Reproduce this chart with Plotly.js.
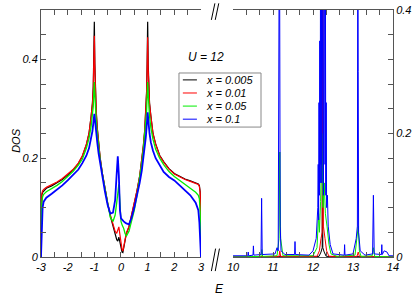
<!DOCTYPE html>
<html>
<head>
<meta charset="utf-8">
<script src="https://cdn.plot.ly/plotly-3.0.1.min.js"></script>
<style>html,body{margin:0;padding:0;background:#fff;}#chart{width:415px;height:297px;}</style>
</head>
<body>
<div id="chart"></div>
<script>
// Series names
const seriesNames = ['x = 0.005', 'x = 0.01', 'x = 0.05', 'x = 0.1'];
const seriesColors = ['#000000', '#ff0000', '#00ee00', '#0000ff'];

// Left panel: energy grid and DOS values
const eLeft = [-3.00, -2.99, -2.97, -2.94, -2.90, -2.80, -2.60, -2.40, -2.20, -2.00,
  -1.80, -1.60, -1.45, -1.30, -1.20, -1.12, -1.07, -1.04, -1.02, -1.00,
  -0.98, -0.96, -0.93, -0.89, -0.84, -0.78, -0.70, -0.60, -0.50, -0.40,
  -0.30, -0.22, -0.16, -0.12, -0.08, -0.04, 0.00, 0.04, 0.07, 0.10,
  0.15, 0.20, 0.30, 0.40, 0.50, 0.60, 0.70, 0.78, 0.84, 0.89,
  0.93, 0.96, 0.98, 1.00, 1.02, 1.04, 1.07, 1.12, 1.20, 1.30,
  1.45, 1.60, 1.80, 2.00, 2.20, 2.40, 2.60, 2.80, 2.90, 2.94,
  2.97, 2.99, 3.00];

const dosLeft005 = [0, 0.095, 0.125, 0.131, 0.134, 0.139, 0.144, 0.15, 0.157, 0.166,
  0.176, 0.189, 0.204, 0.227, 0.25, 0.285, 0.312, 0.345, 0.39, 0.476,
  0.39, 0.335, 0.297, 0.262, 0.229, 0.2, 0.17, 0.136, 0.108, 0.083,
  0.062, 0.045, 0.035, 0.032, 0.04, 0.03, 0.018, 0.01, 0.009, 0.018,
  0.033, 0.047, 0.061, 0.084, 0.107, 0.134, 0.163, 0.195, 0.226, 0.257,
  0.292, 0.335, 0.39, 0.476, 0.39, 0.345, 0.312, 0.286, 0.25, 0.229,
  0.206, 0.193, 0.179, 0.169, 0.163, 0.158, 0.154, 0.151, 0.148, 0.145,
  0.132, 0.085, 0];

const dosLeft01 = [0, 0.10, 0.128, 0.134, 0.137, 0.141, 0.146, 0.152, 0.159, 0.168,
  0.177, 0.19, 0.205, 0.228, 0.25, 0.285, 0.31, 0.34, 0.38, 0.448,
  0.38, 0.33, 0.295, 0.26, 0.228, 0.2, 0.17, 0.137, 0.11, 0.085,
  0.065, 0.052, 0.048, 0.055, 0.061, 0.045, 0.025, 0.015, 0.012, 0.02,
  0.035, 0.048, 0.062, 0.085, 0.108, 0.135, 0.164, 0.195, 0.225, 0.255,
  0.29, 0.33, 0.38, 0.445, 0.38, 0.34, 0.31, 0.285, 0.25, 0.228,
  0.205, 0.192, 0.178, 0.168, 0.162, 0.157, 0.153, 0.15, 0.147, 0.143,
  0.13, 0.08, 0];

const dosLeft05 = [0, 0.06, 0.11, 0.122, 0.127, 0.132, 0.138, 0.145, 0.153, 0.163,
  0.173, 0.186, 0.198, 0.22, 0.24, 0.265, 0.285, 0.305, 0.33, 0.354,
  0.33, 0.3, 0.275, 0.25, 0.222, 0.196, 0.168, 0.138, 0.108, 0.08,
  0.072, 0.085, 0.11, 0.13, 0.147, 0.11, 0.072, 0.065, 0.062, 0.058,
  0.048, 0.042, 0.052, 0.072, 0.095, 0.125, 0.158, 0.19, 0.218, 0.245,
  0.27, 0.295, 0.325, 0.354, 0.33, 0.305, 0.285, 0.262, 0.238, 0.218,
  0.2, 0.187, 0.173, 0.163, 0.155, 0.148, 0.14, 0.131, 0.125, 0.118,
  0.09, 0.04, 0];

const dosLeft1 = [0, 0.02, 0.06, 0.1, 0.112, 0.12, 0.128, 0.136, 0.145, 0.155,
  0.165, 0.177, 0.19, 0.205, 0.22, 0.24, 0.255, 0.27, 0.28, 0.29,
  0.28, 0.265, 0.25, 0.232, 0.21, 0.188, 0.162, 0.132, 0.105, 0.088,
  0.09, 0.115, 0.17, 0.204, 0.165, 0.095, 0.078, 0.075, 0.073, 0.072,
  0.07, 0.068, 0.066, 0.08, 0.1, 0.123, 0.15, 0.175, 0.198, 0.222,
  0.242, 0.262, 0.278, 0.293, 0.28, 0.266, 0.25, 0.232, 0.215, 0.2,
  0.185, 0.172, 0.162, 0.155, 0.145, 0.135, 0.125, 0.11, 0.095, 0.07,
  0.035, 0.01, 0];

// Right panel (upper band) energies and DOS values per series
const eRight005 = [10.0, 12.15, 12.2, 12.23, 12.235, 12.245, 12.28, 12.33, 14.0];
const dosRight005 = [0, 0.001, 0.008, 0.015, 0.6, 0.015, 0.008, 0.001, 0];

const eRight01 = [10.0, 11.15, 11.17, 11.19, 12.1, 12.16, 12.2, 12.23, 12.245, 12.26, 12.3, 12.34, 12.4, 13.1, 13.13, 13.16, 14.0];
const dosRight01 = [0, 0.001, 0.01, 0.001, 0.001, 0.01, 0.03, 0.04, 0.6, 0.05, 0.03, 0.01, 0.001, 0.001, 0.008, 0.001, 0];

const eRight05 = [10.0, 10.7, 10.72, 10.74, 11.1, 11.15, 11.17, 11.19, 11.25, 12.0, 12.1, 12.14, 12.16, 12.19, 12.22, 12.25, 12.28, 12.31, 12.35, 12.4, 12.45, 12.6, 13.05, 13.1, 13.13, 13.16, 13.2, 13.48, 13.51, 13.54, 14.0];
const dosRight05 = [0, 0.001, 0.012, 0.001, 0.002, 0.03, 0.17, 0.03, 0.002, 0.002, 0.015, 0.07, 0.04, 0.09, 0.2, 0.08, 0.12, 0.07, 0.05, 0.02, 0.005, 0.001, 0.003, 0.03, 0.05, 0.01, 0.001, 0.002, 0.015, 0.001, 0];

const eRight1 = [10.0, 10.3, 10.37, 10.38, 10.39, 10.5, 10.51, 10.52, 10.7, 10.715, 10.73, 11.05, 11.1, 11.13, 11.16, 11.18, 11.2, 11.3, 11.54, 11.55, 11.56, 11.9, 12.0, 12.08, 12.1, 12.12, 12.13, 12.14, 12.15, 12.16, 12.17, 12.18, 12.19, 12.2, 12.21, 12.22, 12.24, 12.25, 12.26, 12.27, 12.29, 12.3, 12.31, 12.32, 12.33, 12.34, 12.36, 12.38, 12.43, 12.5, 12.78, 12.79, 12.8, 13.0, 13.05, 13.08, 13.11, 13.12, 13.13, 13.14, 13.18, 13.3, 13.49, 13.51, 13.53, 13.71, 13.72, 13.73, 13.78, 13.85, 13.9, 14.0];
const dosRight1 = [0.002, 0.002, 0.002, 0.008, 0.002, 0.003, 0.018, 0.003, 0.004, 0.095, 0.004, 0.005, 0.015, 0.01, 0.6, 0.05, 0.01, 0.004, 0.004, 0.025, 0.004, 0.003, 0.01, 0.03, 0.06, 0.08, 0.15, 0.06, 0.25, 0.1, 0.35, 0.12, 0.6, 0.15, 0.45, 0.12, 0.3, 0.5, 0.1, 0.25, 0.6, 0.15, 0.45, 0.1, 0.25, 0.08, 0.1, 0.05, 0.02, 0.005, 0.003, 0.02, 0.003, 0.005, 0.02, 0.03, 0.05, 0.6, 0.3, 0.04, 0.01, 0.003, 0.005, 0.1, 0.005, 0.004, 0.02, 0.004, 0.01, 0.008, 0.002, 0.002];

// Tick labels
const leftTickVals = [-3, -2, -1, 0, 1, 2, 3];
const leftTickText = ['-3', '-2', '-1', '0', '1', '2', '3'];
const rightTickVals = [10, 11, 12, 13, 14];
const rightTickText = ['10', '11', '12', '13', '14'];

const leftData = [dosLeft005, dosLeft01, dosLeft05, dosLeft1];
const rightE = [eRight005, eRight01, eRight05, eRight1];
const rightData = [dosRight005, dosRight01, dosRight05, dosRight1];
const widthsLeft = [1.2, 1.2, 1.3, 1.8];
const widthsRight = [1, 1, 1, 1];

const traces = [];
for (let i = 0; i < 4; i++) {
  traces.push({
    x: eLeft, y: leftData[i], type: 'scatter', mode: 'lines',
    name: seriesNames[i], legendgroup: 'g' + i, showlegend: false,
    line: {color: seriesColors[i], width: widthsLeft[i]},
    xaxis: 'x', yaxis: 'y'
  });
}
for (let i = 0; i < 4; i++) {
  traces.push({
    x: rightE[i], y: rightData[i], type: 'scatter', mode: 'lines',
    name: seriesNames[i], legendgroup: 'g' + i, showlegend: false,
    line: {color: seriesColors[i], width: widthsRight[i]},
    xaxis: 'x2', yaxis: 'y2'
  });
}

const axCol = '#555555';
const fam = 'Liberation Sans, Arial, sans-serif';
const tickFont = {family: fam, size: 11, color: '#000', style: 'italic'};
function seg(x0, y0, x1, y1, col, w) {
  return {type: 'line', xref: 'paper', yref: 'paper', x0: x0, y0: y0, x1: x1, y1: y1,
    line: {color: col, width: w}};
}

// Hand-made legend (box, line samples, labels) in paper coordinates
const legRowsY = [0.717, 0.664, 0.611, 0.558];
const shapes = [
  seg(0.484, 0.960, 0.494, 1.027, '#000', 1), seg(0.495, 0.960, 0.505, 1.027, '#000', 1),
  seg(0.484, -0.057, 0.496, 0.034, '#000', 1), seg(0.495, -0.057, 0.507, 0.034, '#000', 1),
  {type: 'rect', xref: 'paper', yref: 'paper', x0: 0.392, x1: 0.625, y0: 0.526, y1: 0.745,
   fillcolor: '#fff', line: {color: '#888', width: 1}, layer: 'above'}
];
const annotations = [
  {text: 'DOS', xref: 'paper', yref: 'paper', x: -0.094, y: 0.474, showarrow: false,
   textangle: -90, font: {size: 11, style: 'italic'}},
  {text: 'E', xref: 'paper', yref: 'paper', x: 0.506, y: -0.165, showarrow: false,
   font: {size: 12, style: 'italic'}},
  {text: 'U = 12', xref: 'paper', yref: 'paper', x: 0.469, y: 0.846, showarrow: false,
   font: {size: 12, style: 'italic'}}
];
for (let i = 0; i < 4; i++) {
  shapes.push(seg(0.403, legRowsY[i], 0.443, legRowsY[i], seriesColors[i], 1));
  annotations.push({text: seriesNames[i], xref: 'paper', yref: 'paper', x: 0.463, y: legRowsY[i],
    xanchor: 'left', yanchor: 'middle', showarrow: false, font: {size: 11, style: 'italic'}});
}
shapes.forEach(s => { if (s.type === 'line') s.layer = 'above'; });

const layout = {
  width: 415, height: 297, autosize: false,
  margin: {l: 41, r: 22, t: 10, b: 40, pad: 0},
  paper_bgcolor: '#fff', plot_bgcolor: '#fff',
  font: {family: fam, size: 11, color: '#000', style: 'italic'},
  showlegend: false,
  xaxis: {
    domain: [0, 0.4545], range: [-3, 3], anchor: 'y',
    tickmode: 'array', tickvals: leftTickVals, ticktext: leftTickText,
    ticks: 'inside', ticklen: 5, tickcolor: axCol, tickfont: tickFont,
    minor: {dtick: 0.5, tick0: 0, ticks: 'inside', ticklen: 5, tickcolor: axCol},
    showline: true, linecolor: axCol, linewidth: 1, mirror: 'ticks',
    showgrid: false, zeroline: false
  },
  yaxis: {
    domain: [0, 1], range: [0, 0.5], anchor: 'x',
    tick0: 0, dtick: 0.2, ticks: 'inside', ticklen: 5, tickcolor: axCol, tickfont: tickFont,
    minor: {dtick: 0.05, tick0: 0, ticks: 'inside', ticklen: 5, tickcolor: axCol},
    showline: true, linecolor: axCol, linewidth: 1,
    showgrid: false, zeroline: false
  },
  xaxis2: {
    domain: [0.5455, 1], range: [10, 14], anchor: 'y2',
    tickmode: 'array', tickvals: rightTickVals, ticktext: rightTickText,
    ticks: 'inside', ticklen: 5, tickcolor: axCol, tickfont: tickFont,
    minor: {dtick: 1/3, tick0: 10, ticks: 'inside', ticklen: 5, tickcolor: axCol},
    showline: true, linecolor: axCol, linewidth: 1, mirror: 'ticks',
    showgrid: false, zeroline: false
  },
  yaxis2: {
    domain: [0, 1], range: [0, 0.4], anchor: 'x2', side: 'right',
    tick0: 0, dtick: 0.2, ticks: 'inside', ticklen: 5, tickcolor: axCol, tickfont: tickFont,
    minor: {dtick: 0.04, tick0: 0, ticks: 'inside', ticklen: 5, tickcolor: axCol},
    showline: true, linecolor: axCol, linewidth: 1,
    showgrid: false, zeroline: false
  },
  annotations: annotations,
  shapes: shapes
};

Plotly.newPlot('chart', traces, layout, {displayModeBar: false, staticPlot: true});
</script>
</body>
</html>
